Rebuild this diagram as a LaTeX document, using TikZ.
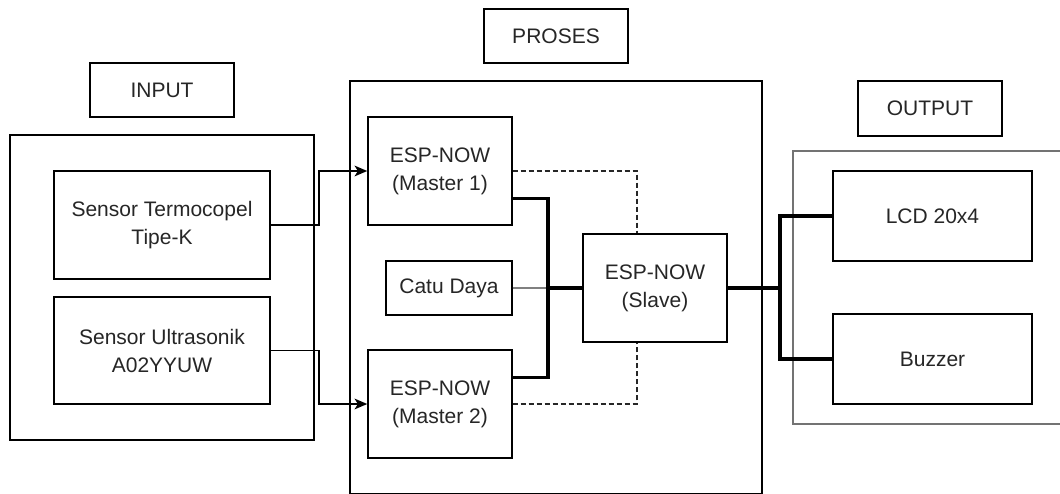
\documentclass[tikz,border=0pt]{standalone}
\usepackage{fontspec}
\setmainfont{Liberation Sans}
\usetikzlibrary{calc,arrows.meta}
\tikzset{
  px/.style={x=0.75pt,y=-0.75pt},
  box/.style={draw=black, line width=1.1pt, fill=none, inner sep=0pt, align=center,
    text=black!85, font=\fontsize{15.75}{21}\selectfont},
  grp/.style={draw=black, line width=1.1pt, inner sep=0pt},
  ogrp/.style={draw=black!55, line width=1.6pt, inner sep=0pt},
  thin/.style={draw=black, line width=1.3pt},
  arr/.style={thin, -{Stealth[length=9.5pt,width=8pt,inset=2.5pt]}},
  dsh/.style={draw=black!85, line width=1pt, dash pattern=on 3.75pt off 2.25pt},
  bus/.style={draw=black, line width=2.3pt},
  pwr/.style={draw=black!50, line width=1.6pt},
}
\begin{document}
\begin{tikzpicture}[px]
\useasboundingbox[fill=white] (0,0) rectangle (1060,493);
% containers
\node[grp, minimum width=0.75*304pt, minimum height=0.75*305pt] (inBox) at (162,287.5) {};
\node[grp, minimum width=0.75*412pt, minimum height=0.75*413pt] (prBox) at (556,287.5) {};
\node[ogrp, minimum width=0.75*277pt, minimum height=0.75*273pt] (outBox) at (931.5,287.5) {};
% labels
\node[box, minimum width=0.75*144pt, minimum height=0.75*54pt] (inLbl) at (162,90) {INPUT};
\node[box, minimum width=0.75*144pt, minimum height=0.75*54pt] (prLbl) at (556,36) {PROSES};
\node[box, minimum width=0.75*144pt, minimum height=0.75*55pt] (outLbl) at (930,108.5) {OUTPUT};
% blocks
\node[box, minimum width=0.75*216pt, minimum height=0.75*108pt] (s1) at (162,225) {Sensor Termocopel\\Tipe-K};
\node[box, minimum width=0.75*216pt, minimum height=0.75*107pt] (s2) at (162,350.5) {Sensor Ultrasonik\\A02YYUW};
\node[box, minimum width=0.75*144pt, minimum height=0.75*108pt] (m1) at (440,171) {ESP-NOW\\(Master 1)};
\node[box, minimum width=0.75*144pt, minimum height=0.75*108pt] (m2) at (440,404) {ESP-NOW\\(Master 2)};
\node[box, minimum width=0.75*126pt, minimum height=0.75*54pt] (cd) at (449,288) {Catu Daya};
\node[box, minimum width=0.75*144pt, minimum height=0.75*108pt] (sl) at (655,288) {ESP-NOW\\(Slave)};
\node[box, minimum width=0.75*199pt, minimum height=0.75*90pt] (lcd) at (932.5,216) {LCD 20x4};
\node[box, minimum width=0.75*199pt, minimum height=0.75*90pt] (bz) at (932.5,359) {Buzzer};
% junctions
\coordinate (dv) at (637,0);
\coordinate (mbus) at (548,288);
\coordinate (obus) at (780,288);
% input arrows
\draw[arr] (s1.east) -- ++(48,0) |- (m1.west);
\draw[arr] (s2.east) -- ++(48,0) |- (m2.west);
% dashed wireless links
\draw[dsh] (m1.east) -| (dv |- sl.north);
\draw[dsh] (m2.east) -| (dv |- sl.south);
% power and bus
\draw[pwr] (cd.east) -- (mbus);
\draw[bus] ($(m1.south east)+(0,-27)$) -| (mbus) |- ($(m2.north east)+(0,28)$);
\draw[bus] (mbus) -- (sl.west);
% output bus
\draw[bus] (sl.east) -- (obus);
\draw[bus] (lcd.west) -| (obus) |- (bz.west);
\end{tikzpicture}
\end{document}
